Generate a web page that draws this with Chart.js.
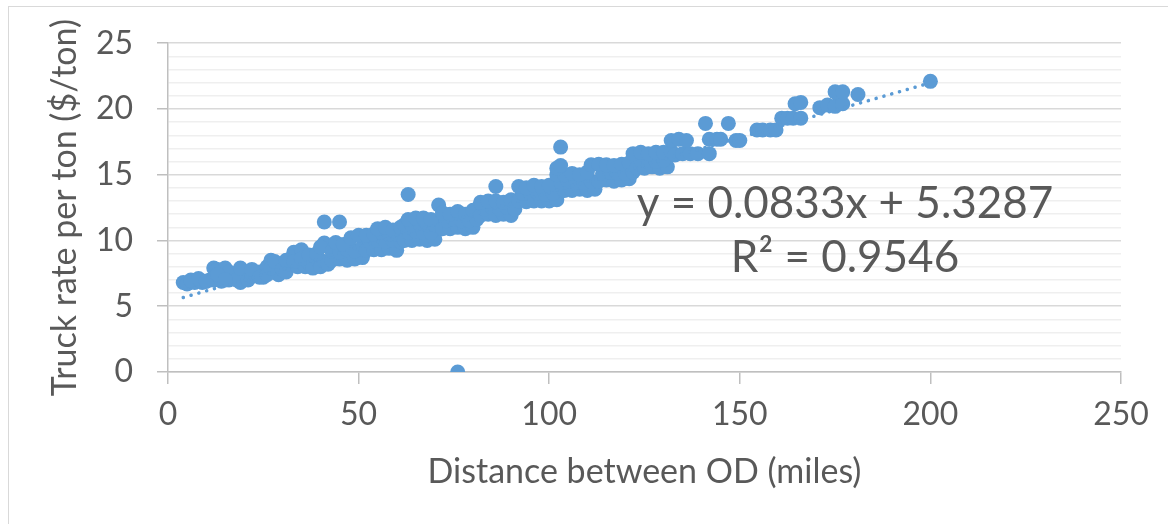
<!DOCTYPE html>
<html>
<head>
<meta charset="utf-8">
<script src="https://cdn.jsdelivr.net/npm/chart.js@4.4.1/dist/chart.umd.min.js"></script>
<style>
body { margin: 0; background: #ffffff; overflow: hidden; }
#frame { position: absolute; left: 8px; top: 6px; width: 1300px; height: 700px; border: 1.5px solid #d9d9d9; }
#wrap { position: absolute; left: 0; top: 0; width: 1168px; height: 524px; }
</style>
</head>
<body>
<div id="frame"></div>
<div id="wrap"><canvas id="truckChart" width="1168" height="524"></canvas></div>
<script>
const distMiles = [
  4, 5, 6, 7, 8, 9, 10, 11, 6, 8, 10,
  12, 13, 14, 15, 16, 17, 18, 19, 20, 12, 14, 16, 18, 19, 13, 15,
  21, 22, 23, 24, 25, 26, 27, 28, 29, 22, 24, 26, 27, 28,
  30, 31, 32, 33, 34, 35, 36, 37, 38, 39, 40, 41, 42, 31, 33, 35, 37, 39, 41, 40, 41, 45,
  43, 45, 47, 49, 51, 43, 45, 47, 49, 51, 44, 46, 48, 50,
  52, 54, 56, 58, 60, 53, 55, 57, 59, 61, 52, 54, 56, 58, 60, 55, 57, 59, 61,
  62, 64, 66, 68, 70, 63, 65, 67, 69, 62, 64, 66, 68, 70, 63, 65, 67, 69, 63, 71,
  72, 74, 76, 78, 80, 73, 75, 77, 79, 81, 72, 74, 76, 78, 80, 76,
  82, 84, 86, 88, 90, 83, 85, 87, 89, 91, 82, 84, 86, 88, 90, 86,
  92, 94, 96, 98, 100, 102, 93, 95, 97, 99, 101, 92, 94, 96, 98, 100,
  104, 106, 108, 110, 112, 103, 105, 107, 109, 111, 102, 104, 106, 108, 110, 102, 103, 103,
  113, 115, 117, 119, 121, 114, 116, 118, 120, 122, 111, 113, 115, 117, 119, 121,
  123, 125, 127, 129, 131, 124, 126, 128, 130, 122, 124, 126, 128, 130, 132,
  133, 135, 137, 139, 142, 132, 134, 136, 142, 144, 145, 141, 147, 149, 150,
  154.5, 156, 158, 159.5, 161, 162.5, 164, 166, 164.5, 166,
  171, 173, 175, 177, 175, 177, 181, 200
];
// truck rate per ton ($/ton), same order as distMiles
const ratePerTon = [
  6.8, 6.7, 6.9, 6.8, 7.0, 6.8, 6.9, 7.0, 7.0, 7.1, 6.9,
  7.9, 7.8, 7.3, 7.9, 7.0, 7.3, 7.5, 6.8, 7.2, 7.0, 6.9, 7.6, 7.0, 7.9, 7.4, 7.0,
  7.0, 7.3, 7.4, 7.6, 7.2, 8.0, 8.5, 7.6, 7.4, 7.8, 7.2, 7.4, 7.9, 8.4,
  7.8, 7.6, 8.2, 9.1, 8.0, 9.3, 8.0, 8.3, 7.9, 8.6, 8.0, 8.4, 8.2, 8.5, 8.4, 8.6, 8.9, 9.0, 9.8, 9.5, 11.4, 11.4,
  8.5, 8.6, 8.5, 8.6, 8.7, 9.2, 9.1, 9.3, 9.2, 9.5, 9.85, 9.7, 10.2, 10.4,
  9.25, 9.3, 9.3, 9.4, 9.25, 9.9, 10.0, 9.9, 10.0, 9.9, 10.4, 10.5, 10.6, 10.5, 10.5, 10.9, 11.0, 10.8, 11.0,
  10.0, 10.0, 10.1, 10.0, 10.1, 10.6, 10.7, 10.6, 10.6, 11.2, 11.2, 11.3, 11.2, 11.2, 11.6, 11.7, 11.7, 11.6, 13.5, 12.7,
  10.9, 10.9, 11.0, 10.9, 11.0, 11.5, 11.6, 11.5, 11.5, 11.6, 12.1, 12.0, 12.2, 12.0, 12.3, 0,
  11.9, 12.0, 11.9, 12.0, 11.9, 12.4, 12.5, 12.4, 12.5, 12.4, 12.9, 13.0, 13.0, 12.9, 13.1, 14.1,
  13.0, 12.95, 13.0, 13.0, 13.0, 13.1, 13.6, 13.6, 13.6, 13.5, 13.6, 14.1, 14.0, 14.2, 14.1, 14.2,
  13.8, 13.8, 13.9, 13.8, 13.9, 14.4, 14.5, 14.4, 14.4, 14.5, 15.0, 15.0, 15.1, 15.0, 15.2, 15.5, 15.7, 17.1,
  14.5, 14.6, 14.5, 14.6, 14.7, 15.1, 15.2, 15.1, 15.1, 15.2, 15.75, 15.8, 15.75, 15.7, 15.8, 15.9,
  15.5, 15.5, 15.6, 15.5, 15.6, 16.1, 16.1, 16.0, 16.1, 16.6, 16.7, 16.6, 16.7, 16.7, 16.8,
  16.5, 16.6, 16.6, 16.6, 16.6, 17.6, 17.7, 17.6, 17.7, 17.7, 17.7, 18.9, 18.9, 17.6, 17.6,
  18.4, 18.4, 18.4, 18.4, 19.3, 19.3, 19.3, 19.3, 20.4, 20.5,
  20.1, 20.3, 20.2, 20.4, 21.3, 21.3, 21.1, 22.1
];
// linear trendline as printed on the chart
const trendSlope = 0.0833;
const trendIntercept = 5.3287;
const trendRange = [4, 200];
const xTicks = [0, 50, 100, 150, 200, 250];
const yTicks = [0, 5, 10, 15, 20, 25];

const points = distMiles.map((d, i) => ({ x: d, y: ratePerTon[i] }));
const trend = trendRange.map(d => ({ x: d, y: trendSlope * d + trendIntercept }));

const textColor = '#595959';
const fontFamily = 'Lato, "Open Sans", sans-serif';

const equationLabel = {
  id: 'equationLabel',
  afterDatasetsDraw(chart) {
    const { ctx, scales } = chart;
    const cx = scales.x.getPixelForValue(177.6);
    ctx.save();
    ctx.fillStyle = textColor;
    ctx.font = '44px ' + fontFamily;
    ctx.textAlign = 'center';
    ctx.textBaseline = 'middle';
    ctx.fillText('y = ' + trendSlope + 'x + ' + trendIntercept, cx, scales.y.getPixelForValue(12.8));
    ctx.fillText('R² = 0.9546', cx, scales.y.getPixelForValue(8.65));
    ctx.restore();
  }
};

new Chart(document.getElementById('truckChart'), {
  type: 'scatter',
  data: {
    datasets: [{
      label: 'Trend',
      type: 'line',
      data: trend,
      borderColor: '#5b9bd5',
      borderWidth: 3.5,
      borderDash: [0.1, 8],
      borderCapStyle: 'round',
      pointRadius: 0,
      fill: false,
      order: 0
    }, {
      label: 'Truck rate',
      data: points,
      backgroundColor: '#5b9bd5',
      borderColor: '#5b9bd5',
      borderWidth: 0,
      pointRadius: 7.5,
      order: 1
    }]
  },
  options: {
    responsive: false,
    animation: false,
    layout: { padding: { left: 10, right: 47, top: 42, bottom: 28 } },
    plugins: { legend: { display: false }, tooltip: { enabled: false } },
    scales: {
      x: {
        type: 'linear',
        min: 0,
        max: 250,
        afterBuildTicks: scale => { scale.ticks = xTicks.map(v => ({ value: v })); },
        afterFit: scale => { scale.height = 124; },
        ticks: { color: textColor, font: { family: fontFamily, size: 32 }, padding: 11, maxRotation: 0 },
        grid: { drawOnChartArea: false, tickLength: 12, color: '#bfbfbf', lineWidth: 1.5 },
        border: { color: '#bfbfbf', width: 1.5 },
        title: { display: true, text: 'Distance between OD (miles)', color: textColor, font: { family: fontFamily, size: 34 }, padding: { top: 6 } }
      },
      y: {
        type: 'linear',
        min: 0,
        max: 25,
        afterBuildTicks: scale => {
          const t = [];
          for (let v = 0; v <= 25; v++) t.push({ value: v });
          scale.ticks = t;
        },
        afterFit: scale => { scale.width = 158; },
        ticks: {
          color: textColor,
          font: { family: fontFamily, size: 32 },
          padding: 24,
          autoSkip: false,
          callback: v => (yTicks.includes(v) ? v : '')
        },
        grid: {
          color: c => (c.tick && c.tick.value % 5 === 0 ? '#d9d9d9' : '#efefef'),
          lineWidth: 1.5,
          tickLength: 11,
          tickColor: c => (c.tick && c.tick.value % 5 === 0 ? '#bfbfbf' : 'rgba(0,0,0,0)')
        },
        border: { color: '#bfbfbf', width: 1.5 },
        title: { display: true, text: 'Truck rate per ton ($/ton)', color: textColor, font: { family: fontFamily, size: 34 }, padding: { top: 35 } }
      }
    }
  },
  plugins: [equationLabel]
});
</script>
</body>
</html>
